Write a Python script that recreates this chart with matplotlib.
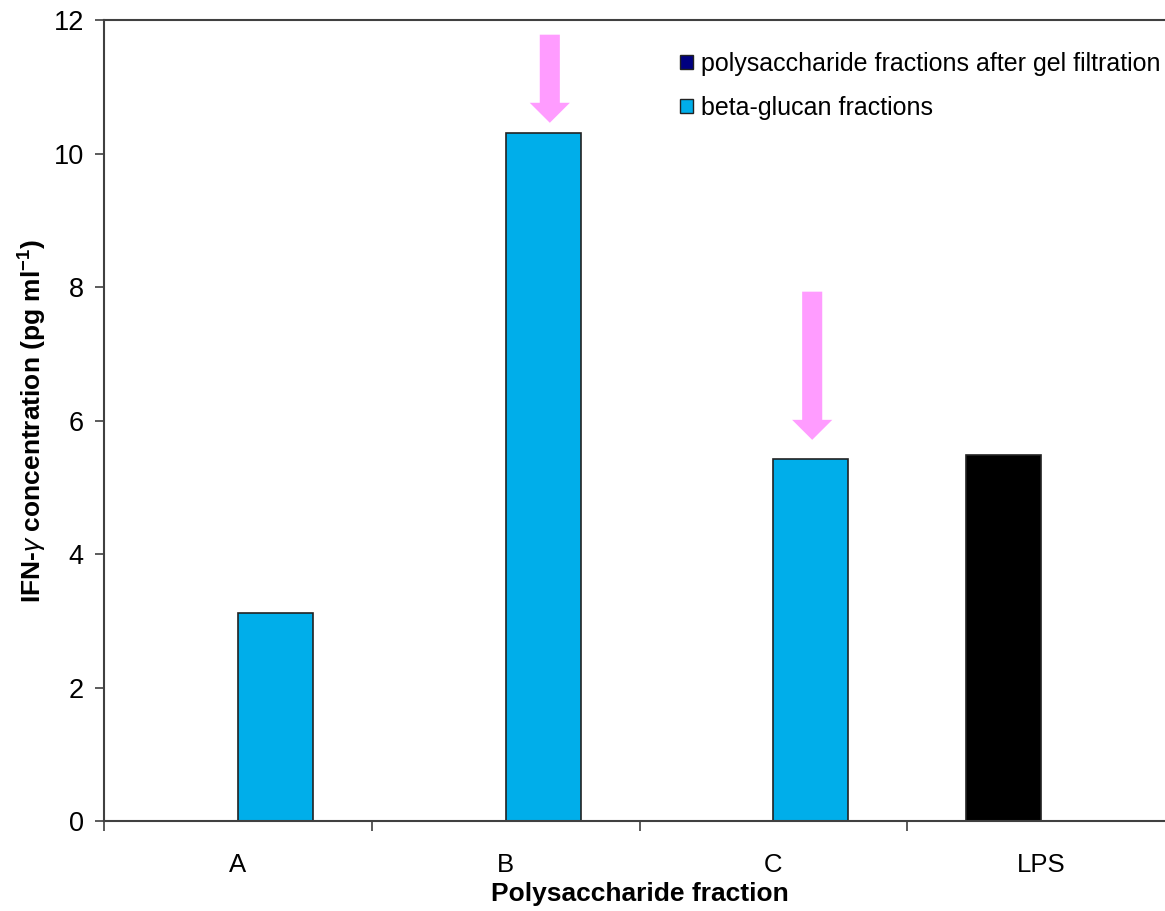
import matplotlib
matplotlib.use("Agg")
import matplotlib.pyplot as plt
import numpy as np
from matplotlib.patches import FancyArrow, Patch

plt.rcParams['font.family'] = ['Liberation Sans', 'DejaVu Sans']
plt.rcParams['mathtext.fontset'] = 'custom'
plt.rcParams['mathtext.rm'] = 'Liberation Sans:bold'
plt.rcParams['mathtext.it'] = 'Liberation Sans:italic'
plt.rcParams['mathtext.bf'] = 'Liberation Sans:bold'

categories = ['A', 'B', 'C', 'LPS']
gel_filtration = [0.0, 0.0, 0.0, 5.48]
beta_glucan = [3.12, 10.31, 5.42, 0.0]
gel_colors = ['#000080', '#000080', '#000080', '#000000']
series_names = ['polysaccharide fractions after gel filtration', 'beta-glucan fractions']
yticks = [0, 2, 4, 6, 8, 10, 12]

W, H = 1165, 911
fig = plt.figure(figsize=(W / 100, H / 100), dpi=100)
ax = fig.add_axes([104 / W, (H - 821) / H, (1175 - 104) / W, (821 - 20) / H])

x = np.arange(len(categories))
bw = 0.28
off = 0.14
for xi, v, c in zip(x, gel_filtration, gel_colors):
    if v > 0:
        ax.bar(xi - off, v, bw, color=c, edgecolor='#222222', linewidth=1.2, zorder=2)
for xi, v in zip(x, beta_glucan):
    if v > 0:
        ax.bar(xi + off, v, bw, color='#00AEEA', edgecolor='#222222', linewidth=1.2, zorder=2)

# pink arrows (annotations)
pink = '#FF9CFF'
for cx, ytop, ytip in [(1.165, 11.78, 10.46), (2.145, 7.93, 5.71)]:
    ax.add_patch(FancyArrow(cx, ytop, 0, ytip - ytop, width=0.075, head_width=0.15,
                            head_length=0.30, length_includes_head=True,
                            color=pink, linewidth=0, zorder=3))

ax.set_xlim(-0.5, 3.5)
ax.set_ylim(0, 12)
ax.set_yticks(yticks)
ax.set_yticklabels([str(t) for t in yticks], fontsize=19.5)
ax.set_xticks(x)
ax.set_xticklabels(categories, fontsize=18.5)
ax.set_xticks(np.arange(-0.5, 3.0, 1.0), minor=True)
ax.tick_params(axis='x', which='major', length=0, pad=23)
ax.tick_params(axis='x', which='minor', length=7, width=1.2, color='#404040', direction='out')
ax.tick_params(axis='y', length=6.5, width=1.2, color='#404040', direction='out', pad=8)

for s in ['left', 'bottom', 'top']:
    ax.spines[s].set_color('#404040')
    ax.spines[s].set_linewidth(1.5)
ax.spines['right'].set_visible(False)

ax.set_xlabel('Polysaccharide fraction', fontsize=19, fontweight='bold', labelpad=4)
ax.set_ylabel(r'IFN-$\mathit{\gamma}$ concentration (pg ml$^{-1}$)', fontsize=19,
              fontweight='bold', labelpad=3)

handles = [Patch(facecolor='#000080', edgecolor='#222222', linewidth=1.0),
           Patch(facecolor='#00AEEA', edgecolor='#222222', linewidth=1.0)]
leg = ax.legend(handles, series_names, loc='upper left',
                bbox_to_anchor=((670 - 104) / 1071, (821 - 42) / 801),
                frameon=False, fontsize=18, handlelength=0.5, handleheight=0.5,
                handletextpad=0.33, labelspacing=0.8, borderaxespad=0.0)

fig.savefig('out.png', dpi=100)
